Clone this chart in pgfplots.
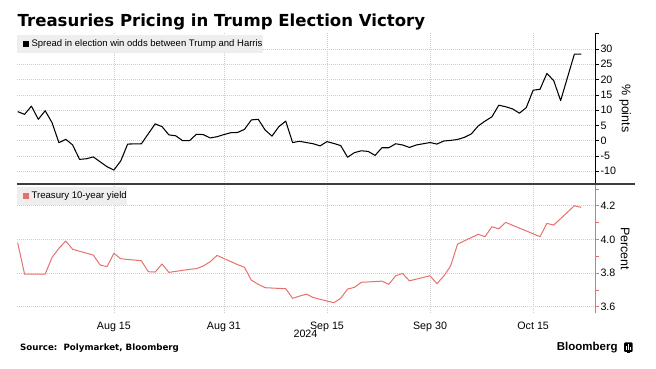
\documentclass[border=0pt]{standalone}
\usepackage{pgfplots}
\pgfplotsset{compat=1.18}
\usepackage{fontspec}
\setmainfont{Liberation Sans}
\newfontfamily\dejavu{DejaVu Sans}
\definecolor{yieldred}{HTML}{E8706C}
\definecolor{gridgray}{HTML}{CFCFCF}
\definecolor{legendbg}{HTML}{EEEEEE}
\definecolor{sepgray}{HTML}{3C3C3C}
\pgfplotstableread{
d v
0 9.5
1 8.6
2 11.3
3 7.0
4 9.8
5 5.9
6 -0.65
7 0.45
8 -1.4
9 -6.1
10 -5.9
11 -5.3
12 -6.9
13 -8.5
14 -9.6
15 -6.6
16 -1.1
18 -1.0
20 5.5
21 4.6
22 1.9
23 1.6
24 0
25 0
26 2.1
27 2.0
28 0.9
29 1.3
30 2.0
31 2.6
32 2.7
33 3.7
34 6.8
35 7.0
36 3.5
37 1.5
38 4.6
39 6.4
40 -0.6
41 -0.2
42 -0.6
43 -1.0
44 -1.7
45 -0.3
46 -0.9
47 -1.6
48 -5.4
49 -3.9
50 -3.3
51 -3.5
52 -4.8
53 -2.3
54 -2.3
55 -1.0
56 -1.4
57 -2.2
58 -1.4
59 -1.0
60 -0.6
61 -1.1
62 -0.1
63 0.1
64 0.4
65 1.1
66 2.2
67 4.8
68 6.4
69 7.8
70 11.6
71 11.1
72 10.4
73 9.0
74 10.8
75 16.5
76 16.8
77 22.0
78 19.6
79 13.1
80 20.7
81 28.3
82 28.3
}\spreadtable
\pgfplotstableread{
d v
0 3.98
1 3.794
4 3.794
5 3.893
6 3.947
7 3.99
8 3.941
11 3.907
12 3.848
13 3.838
14 3.917
15 3.885
18 3.873
19 3.808
20 3.806
21 3.854
22 3.804
25 3.822
26 3.826
27 3.842
28 3.867
29 3.905
32 3.85
33 3.834
34 3.758
35 3.733
36 3.713
39 3.707
40 3.65
41 3.663
42 3.675
43 3.655
44 3.644
46 3.624
47 3.65
48 3.705
49 3.715
50 3.745
53 3.752
54 3.733
55 3.784
56 3.798
57 3.754
60 3.784
61 3.737
62 3.782
63 3.843
64 3.972
67 4.03
68 4.016
69 4.075
70 4.063
71 4.101
76 4.016
77 4.095
78 4.085
81 4.20
82 4.19
}\yieldtable
\pgfplotsset{
  panel/.style={
    scale only axis,
    anchor=south west,
    width=578pt,
    xmin=-0.1, xmax=84,
    axis x line*=bottom,
    axis y line*=right,
    x axis line style={draw=none},
    xtick={14,30,45,60,75},
    major x tick style={draw=none},
    xmajorgrids, ymajorgrids,
    grid style={gridgray, line width=0.6pt, dash pattern=on 0.8pt off 1.2pt},
    tick align=outside,
    major tick length=4pt,
    minor tick length=4pt,
    /pgf/number format/assume math mode=true,
    ticklabel style={font=\fontsize{10.7}{12}\selectfont},
    yticklabel style={xshift=-2pt},
    every axis y label/.style={at={(axis description cs:1,0.5)}, xshift=30pt, rotate=-90, anchor=center, font=\fontsize{12.5}{14}\selectfont},
  }
}
\begin{document}
\begin{tikzpicture}[x=1pt,y=1pt]
\path[use as bounding box] (0,0) rectangle (656,369);
% top panel
\begin{axis}[panel,
  at={(17pt,185pt)}, height=151pt,
  ymin=-14.15, ymax=35.2,
  ytick={-10,-5,0,5,10,15,20,25,30},
  extra y ticks={35}, extra y tick labels={}, extra y tick style={grid=none},
  xticklabels={},
  y axis line style={black, line width=0.8pt},
  ytick style={black, line width=0.6pt},
  ylabel={\% points},
]
\addplot[black, line width=1.05pt, line join=round] table[x=d, y=v] {\spreadtable};
\end{axis}
% bottom panel
\begin{axis}[panel,
  at={(17pt,55.7pt)}, height=129.3pt,
  ymin=3.561, ymax=4.329,
  ytick={3.6,3.8,4.0,4.2},
  minor ytick={3.7,3.9,4.1,4.3},
  yticklabel style={/pgf/number format/.cd, fixed, fixed zerofill, precision=1},
  xticklabels={Aug 15, Aug 31, Sep 15, Sep 30, Oct 15},
  xticklabel style={yshift=-1.5pt},
  y axis line style={yieldred, line width=0.8pt},
  ytick style={yieldred, line width=0.6pt},
  minor y tick style={yieldred, line width=0.6pt},
  ylabel={Percent},
]
\addplot[yieldred, line width=1pt, line join=round] table[x=d, y=v] {\yieldtable};
\end{axis}
% separator
\draw[sepgray, line width=2.6pt] (17,185) -- (635,185);
% title
\node[anchor=base west, inner sep=0pt] at (17.5,342.3) {\dejavu\bfseries\fontsize{16.55}{19}\selectfont Treasuries Pricing in Trump Election Victory};
% legends
\node[anchor=north west, fill=legendbg, inner xsep=0pt, inner ysep=0pt, minimum height=18pt] at (17,334)
  {\fontsize{9.5}{11}\selectfont\hspace{6pt}\textcolor{black}{\rule{6pt}{6pt}}\hspace{2.4pt}Spread in election win odds between Trump and Harris\hspace{4.7pt}};
\node[anchor=north west, fill=legendbg, inner xsep=0pt, inner ysep=0pt, minimum height=17.7pt] at (17,181.7)
  {\fontsize{9.6}{11}\selectfont\hspace{6pt}\textcolor{yieldred}{\rule{6pt}{6pt}}\hspace{2.4pt}Treasury 10-year yield\hspace{4.7pt}};
% year
\node[anchor=base, inner sep=0pt] at (305.5,31.3) {\fontsize{10.7}{12}\selectfont 2024};
% source
\node[anchor=base west, inner sep=0pt] at (20,18.3) {\dejavu\bfseries\fontsize{8.7}{10}\selectfont Source:\ \ Polymarket, Bloomberg};
% Bloomberg mark
\node[anchor=base west, inner sep=0pt] at (556.7,18) {\bfseries\fontsize{11.5}{13}\selectfont Bloomberg};
\fill[black, rounded corners=1pt] (624,17) rectangle (632.7,26.5);
\fill[black] (627.2,15.8) rectangle (629.5,17.2);
\fill[white] (625.8,19) rectangle (626.6,23);
\fill[white] (627.9,19) rectangle (628.7,24.5);
\fill[white] (630,19) rectangle (630.8,22);
\end{tikzpicture}
\end{document}
